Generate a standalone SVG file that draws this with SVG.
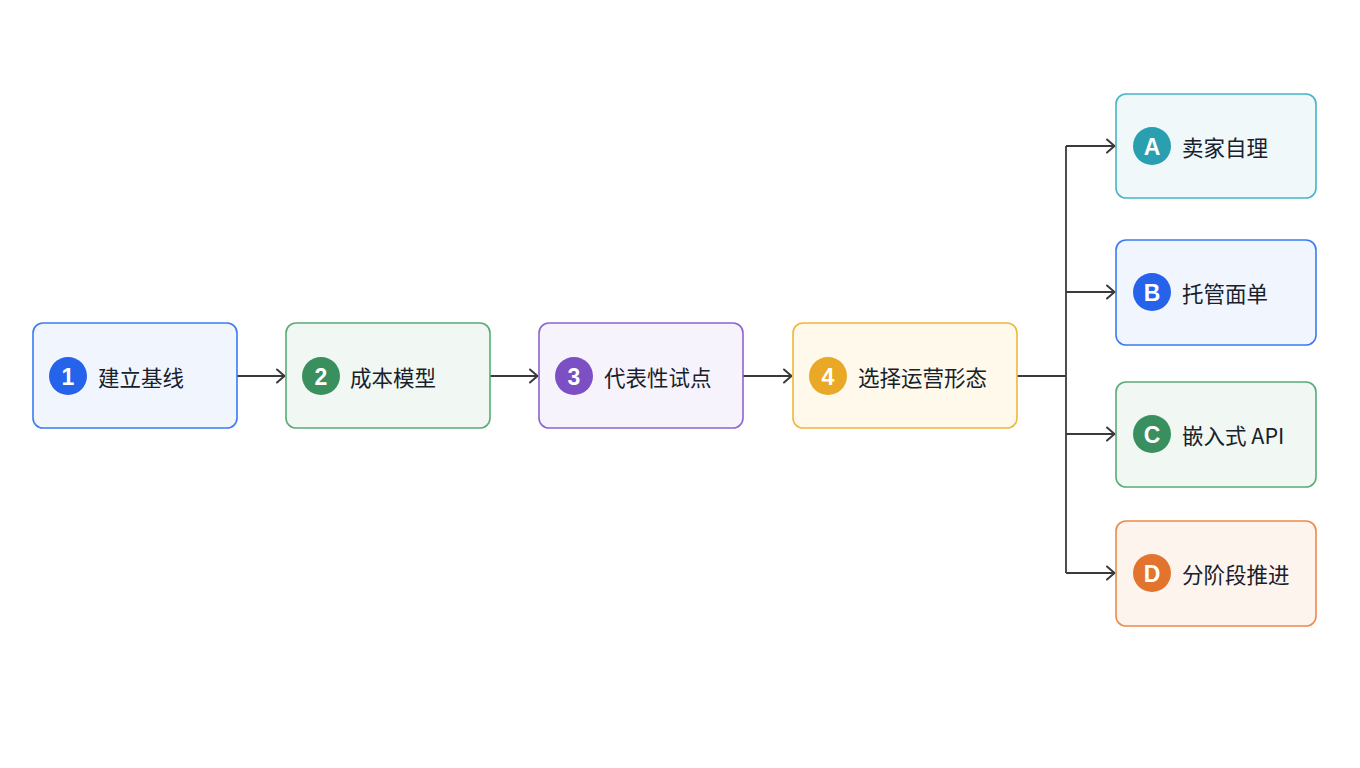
<svg xmlns="http://www.w3.org/2000/svg" width="1360" height="768" viewBox="0 0 1360 768">
<style>
.box{stroke-width:1.6}
.lbl{font-family:"Noto Sans CJK SC","Noto Sans",sans-serif;font-size:21.5px;font-weight:400;fill:#18212b;dominant-baseline:central}
.num{font-family:"Liberation Sans","Noto Sans",sans-serif;font-size:23px;font-weight:bold;fill:#ffffff;text-anchor:middle;dominant-baseline:central}
.con{fill:none;stroke:#3a3a3a;stroke-width:1.8}
</style>
<defs>
<marker id="arr" viewBox="0 0 14 16" refX="13" refY="8" markerWidth="14" markerHeight="16" markerUnits="userSpaceOnUse" orient="auto">
<path d="M5,1.5 L12.5,8 L5,14.5" fill="none" stroke="#3a3a3a" stroke-width="2" stroke-linecap="round" stroke-linejoin="round"/>
</marker>
</defs>
<rect width="1360" height="768" fill="#ffffff"/>
<g id="connectors">
<path class="con" d="M237,376 H285" marker-end="url(#arr)"/>
<path class="con" d="M490,376 H538" marker-end="url(#arr)"/>
<path class="con" d="M743,376 H792" marker-end="url(#arr)"/>
<path class="con" d="M1017,376 H1066"/>
<path class="con" d="M1066,146 V573"/>
<path class="con" d="M1066,146 H1115" marker-end="url(#arr)"/>
<path class="con" d="M1066,292 H1115" marker-end="url(#arr)"/>
<path class="con" d="M1066,434 H1115" marker-end="url(#arr)"/>
<path class="con" d="M1066,573 H1115" marker-end="url(#arr)"/>
</g>
<g id="n1">
<rect class="box" x="33" y="323" width="204" height="105" rx="10" fill="#f0f5fe" stroke="#3b7bf0"/>
<circle cx="68" cy="376" r="19" fill="#2563eb"/>
<text class="num" x="68" y="377">1</text>
<text class="lbl" x="98" y="376">建立基线</text>
</g>
<g id="n2">
<rect class="box" x="286" y="323" width="204" height="105" rx="10" fill="#f1f8f3" stroke="#5aaa78"/>
<circle cx="321" cy="376" r="19" fill="#3a8f5e"/>
<text class="num" x="321" y="377">2</text>
<text class="lbl" x="350" y="376">成本模型</text>
</g>
<g id="n3">
<rect class="box" x="539" y="323" width="204" height="105" rx="10" fill="#f6f3fc" stroke="#8e63cf"/>
<circle cx="574" cy="376" r="19" fill="#7c4fc4"/>
<text class="num" x="574" y="377">3</text>
<text class="lbl" x="604" y="376">代表性试点</text>
</g>
<g id="n4">
<rect class="box" x="793" y="323" width="224" height="105" rx="10" fill="#fff9ec" stroke="#f0b73a"/>
<circle cx="828" cy="376" r="19" fill="#e9a826"/>
<text class="num" x="828" y="377">4</text>
<text class="lbl" x="858" y="376">选择运营形态</text>
</g>
<g id="nA">
<rect class="box" x="1116" y="94" width="200" height="104" rx="10" fill="#f0f8fa" stroke="#45b5c8"/>
<circle cx="1152" cy="146" r="19" fill="#2a9fb0"/>
<text class="num" x="1152" y="147">A</text>
<text class="lbl" x="1182" y="146">卖家自理</text>
</g>
<g id="nB">
<rect class="box" x="1116" y="240" width="200" height="105" rx="10" fill="#f0f5fe" stroke="#3b7bf0"/>
<circle cx="1152" cy="292" r="19" fill="#2563eb"/>
<text class="num" x="1152" y="293">B</text>
<text class="lbl" x="1182" y="292">托管面单</text>
</g>
<g id="nC">
<rect class="box" x="1116" y="382" width="200" height="105" rx="10" fill="#f1f8f3" stroke="#5aaa78"/>
<circle cx="1152" cy="434" r="19" fill="#3a8f5e"/>
<text class="num" x="1152" y="435">C</text>
<text class="lbl" x="1182" y="434">嵌入式 API</text>
</g>
<g id="nD">
<rect class="box" x="1116" y="521" width="200" height="105" rx="10" fill="#fef4ee" stroke="#ec8a4a"/>
<circle cx="1152" cy="573" r="19" fill="#e2742f"/>
<text class="num" x="1152" y="574">D</text>
<text class="lbl" x="1182" y="573">分阶段推进</text>
</g>
</svg>
